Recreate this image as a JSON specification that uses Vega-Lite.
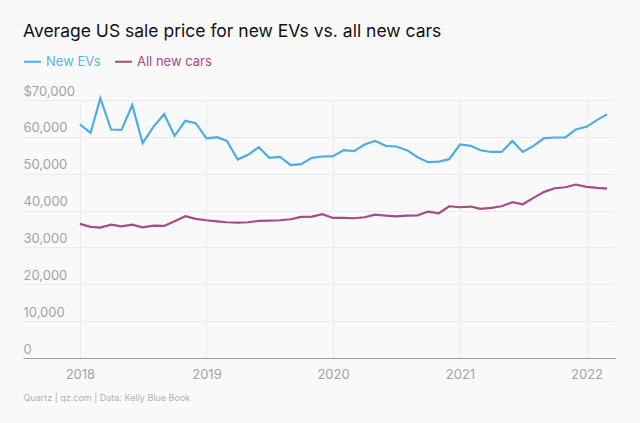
{
  "$schema": "https://vega.github.io/schema/vega-lite/v6.json",
  "width": 592,
  "height": 258,
  "autosize": {"type": "none"},
  "padding": {"left": 23, "top": 100, "right": 25, "bottom": 65},
  "background": "#f9f9f9",
  "title": {
    "text": "Average US sale price for new EVs vs. all new cars",
    "anchor": "start",
    "frame": "group",
    "orient": "top",
    "offset": 12,
    "font": "Inter",
    "fontSize": 17.5,
    "fontWeight": "normal",
    "color": "#111111"
  },
  "config": {
    "view": {"stroke": null},
    "font": "Inter"
  },
  "datasets": {
    "prices": [
      {"month": "2018-01-01", "New EVs": 63370, "All new cars": 36390},
      {"month": "2018-02-01", "New EVs": 61090, "All new cars": 35570},
      {"month": "2018-03-01", "New EVs": 70500, "All new cars": 35380},
      {"month": "2018-04-01", "New EVs": 62000, "All new cars": 36200},
      {"month": "2018-05-01", "New EVs": 61900, "All new cars": 35740},
      {"month": "2018-06-01", "New EVs": 68600, "All new cars": 36200},
      {"month": "2018-07-01", "New EVs": 58290, "All new cars": 35470},
      {"month": "2018-08-01", "New EVs": 62720, "All new cars": 35920},
      {"month": "2018-09-01", "New EVs": 66170, "All new cars": 35840},
      {"month": "2018-10-01", "New EVs": 60270, "All new cars": 37090},
      {"month": "2018-11-01", "New EVs": 64350, "All new cars": 38450},
      {"month": "2018-12-01", "New EVs": 63720, "All new cars": 37740},
      {"month": "2019-01-01", "New EVs": 59600, "All new cars": 37370},
      {"month": "2019-02-01", "New EVs": 59920, "All new cars": 37090},
      {"month": "2019-03-01", "New EVs": 58910, "All new cars": 36830},
      {"month": "2019-04-01", "New EVs": 53860, "All new cars": 36740},
      {"month": "2019-05-01", "New EVs": 55110, "All new cars": 36830},
      {"month": "2019-06-01", "New EVs": 57200, "All new cars": 37200},
      {"month": "2019-07-01", "New EVs": 54300, "All new cars": 37280},
      {"month": "2019-08-01", "New EVs": 54570, "All new cars": 37370},
      {"month": "2019-09-01", "New EVs": 52310, "All new cars": 37650},
      {"month": "2019-10-01", "New EVs": 52580, "All new cars": 38280},
      {"month": "2019-11-01", "New EVs": 54300, "All new cars": 38370},
      {"month": "2019-12-01", "New EVs": 54670, "All new cars": 39000},
      {"month": "2020-01-01", "New EVs": 54760, "All new cars": 38000},
      {"month": "2020-02-01", "New EVs": 56390, "All new cars": 38000},
      {"month": "2020-03-01", "New EVs": 56110, "All new cars": 37920},
      {"month": "2020-04-01", "New EVs": 57930, "All new cars": 38180},
      {"month": "2020-05-01", "New EVs": 58910, "All new cars": 38910},
      {"month": "2020-06-01", "New EVs": 57560, "All new cars": 38640},
      {"month": "2020-07-01", "New EVs": 57380, "All new cars": 38450},
      {"month": "2020-08-01", "New EVs": 56390, "All new cars": 38640},
      {"month": "2020-09-01", "New EVs": 54480, "All new cars": 38720},
      {"month": "2020-10-01", "New EVs": 53120, "All new cars": 39730},
      {"month": "2020-11-01", "New EVs": 53300, "All new cars": 39270},
      {"month": "2020-12-01", "New EVs": 53940, "All new cars": 41170},
      {"month": "2021-01-01", "New EVs": 57930, "All new cars": 40900},
      {"month": "2021-02-01", "New EVs": 57560, "All new cars": 41090},
      {"month": "2021-03-01", "New EVs": 56360, "All new cars": 40460},
      {"month": "2021-04-01", "New EVs": 55900, "All new cars": 40730},
      {"month": "2021-05-01", "New EVs": 55900, "All new cars": 41170},
      {"month": "2021-06-01", "New EVs": 58910, "All new cars": 42260},
      {"month": "2021-07-01", "New EVs": 55900, "All new cars": 41720},
      {"month": "2021-08-01", "New EVs": 57560, "All new cars": 43450},
      {"month": "2021-09-01", "New EVs": 59650, "All new cars": 45080},
      {"month": "2021-10-01", "New EVs": 59830, "All new cars": 46060},
      {"month": "2021-11-01", "New EVs": 59830, "All new cars": 46330},
      {"month": "2021-12-01", "New EVs": 62010, "All new cars": 47060},
      {"month": "2022-01-01", "New EVs": 62720, "All new cars": 46420},
      {"month": "2022-02-01", "New EVs": 64620, "All new cars": 46150},
      {"month": "2022-03-01", "New EVs": 66090, "All new cars": 45980}
    ]
  },
  "data": {"name": "prices"},
  "transform": [
    {"fold": ["New EVs", "All new cars"], "as": ["series", "price"]}
  ],
  "mark": {"type": "line", "strokeWidth": 2.2, "interpolate": "linear"},
  "encoding": {
    "x": {
      "field": "month",
      "type": "temporal",
      "scale": {
        "type": "utc",
        "domain": [
          {"year": 2017, "month": 7, "date": 21, "utc": true},
          {"year": 2022, "month": 3, "date": 24, "utc": true}
        ]
      },
      "axis": {
        "title": "Quartz | qz.com | Data: Kelly Blue Book",
        "titleFontSize": 9,
        "titleFontWeight": "normal",
        "titleColor": "#b3b3b3",
        "titleAnchor": "start",
        "titleAlign": "left",
        "titleBaseline": "alphabetic",
        "titleX": 0,
        "titleY": 42,
        "format": "%Y",
        "tickCount": {"interval": "year", "step": 1},
        "domain": true,
        "domainColor": "#9e9e9e",
        "domainWidth": 1,
        "ticks": false,
        "grid": true,
        "gridColor": "#ebebeb",
        "labelFontSize": 13,
        "labelColor": "#a3a3a3",
        "labelPadding": 10
      }
    },
    "y": {
      "field": "price",
      "type": "quantitative",
      "scale": {"domain": [0, 70000], "nice": false, "zero": true},
      "axis": {
        "title": null,
        "values": [0, 10000, 20000, 30000, 40000, 50000, 60000, 70000],
        "labelExpr": "datum.value == 70000 ? '$70,000' : format(datum.value, ',')",
        "domain": false,
        "ticks": false,
        "tickSize": 0,
        "grid": true,
        "gridColor": "#ebebeb",
        "labelAlign": "left",
        "labelBaseline": "bottom",
        "labelPadding": 0,
        "labelOffset": -2,
        "labelFontSize": 13,
        "labelColor": "#a3a3a3",
        "labelBound": false,
        "labelOverlap": false
      }
    },
    "color": {
      "field": "series",
      "type": "nominal",
      "scale": {"domain": ["New EVs", "All new cars"], "range": ["#4aaee3", "#a64c80"]},
      "legend": {
        "title": null,
        "orient": "none",
        "legendX": 0,
        "legendY": -48,
        "direction": "horizontal",
        "symbolType": "stroke",
        "symbolSize": 289,
        "symbolStrokeWidth": 2,
        "labelFontSize": 13,
        "labelOffset": 4,
        "columnPadding": 10,
        "encode": {
          "labels": {
            "update": {
              "fill": {"signal": "datum.label == 'New EVs' ? '#5fb4e4' : '#a64c80'"}
            }
          }
        }
      }
    }
  }
}
